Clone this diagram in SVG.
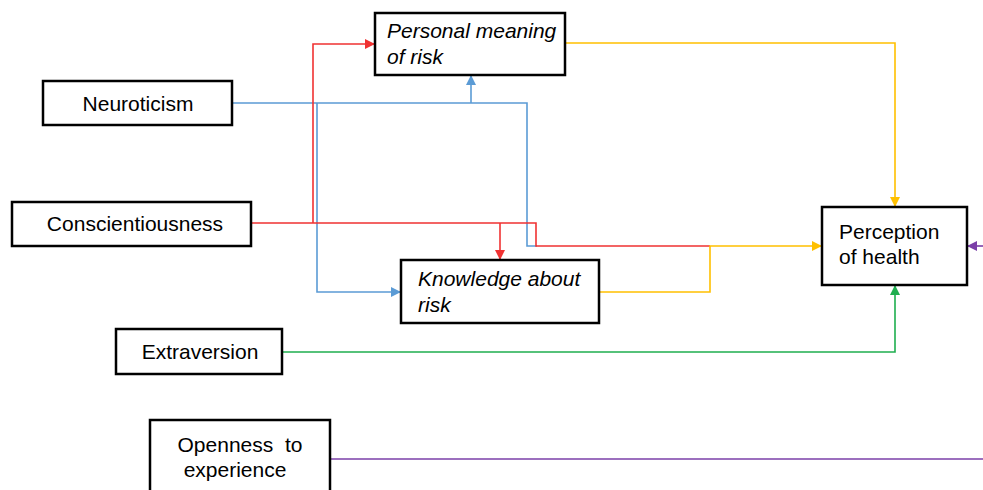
<svg xmlns="http://www.w3.org/2000/svg" width="983" height="490" viewBox="0 0 983 490">
<style>
.box{fill:#fff;stroke:#000;stroke-width:2.5}
.t{font-family:"Liberation Sans",Arial,sans-serif;font-size:21px;fill:#000}
.i{font-style:italic}
.c{fill:none;stroke-width:1.6}
.red{stroke:#f03232}.blue{stroke:#5b9bd5}.yel{stroke:#ffc000}.grn{stroke:#1fae4f}.pur{stroke:#7b3fa8}
</style>
<defs>
<marker id="aR" markerWidth="10" markerHeight="10" refX="9" refY="5" orient="auto" markerUnits="userSpaceOnUse"><path d="M0,0 L10,5 L0,10 z" fill="#f03232"/></marker>
<marker id="aB" markerWidth="10" markerHeight="10" refX="9" refY="5" orient="auto" markerUnits="userSpaceOnUse"><path d="M0,0 L10,5 L0,10 z" fill="#5b9bd5"/></marker>
<marker id="aY" markerWidth="10" markerHeight="10" refX="9" refY="5" orient="auto" markerUnits="userSpaceOnUse"><path d="M0,0 L10,5 L0,10 z" fill="#ffc000"/></marker>
<marker id="aG" markerWidth="10" markerHeight="10" refX="9" refY="5" orient="auto" markerUnits="userSpaceOnUse"><path d="M0,0 L10,5 L0,10 z" fill="#1fae4f"/></marker>
<marker id="aP" markerWidth="10" markerHeight="10" refX="9" refY="5" orient="auto" markerUnits="userSpaceOnUse"><path d="M0,0 L10,5 L0,10 z" fill="#7b3fa8"/></marker>
</defs>
<rect width="983" height="490" fill="#fff"/>
<g id="connectors">
<path class="c blue" d="M232,103 H527 V246 H537"/>
<path class="c blue" d="M471,103 V76" marker-end="url(#aB)"/>
<path class="c blue" d="M317,103 V292 H400" marker-end="url(#aB)"/>
<path class="c red" d="M251,223 H536 V246 H710"/>
<path class="c red" d="M313,223 V44 H374" marker-end="url(#aR)"/>
<path class="c red" d="M500,223 V259" marker-end="url(#aR)"/>
<path class="c yel" d="M599,292 H710 V246 H821" marker-end="url(#aY)"/>
<path class="c yel" d="M565,43 H895 V206" marker-end="url(#aY)"/>
<path class="c grn" d="M282,352 H895 V286" marker-end="url(#aG)"/>
<path class="c pur" d="M330,459 H983"/>
<path class="c pur" d="M983,246 H968" marker-end="url(#aP)"/>
</g>
<g id="personal-meaning"><rect class="box" x="375" y="13" width="190" height="62"/><text class="t i" x="387" y="38">Personal meaning</text><text class="t i" x="387" y="64">of risk</text></g>
<g id="neuroticism"><rect class="box" x="43" y="81" width="189" height="44"/><text class="t" x="138" y="111" text-anchor="middle">Neuroticism</text></g>
<g id="conscientiousness"><rect class="box" x="12" y="202" width="239" height="44"/><text class="t" x="135" y="231" text-anchor="middle">Conscientiousness</text></g>
<g id="knowledge"><rect class="box" x="401" y="260" width="198" height="63"/><text class="t i" x="418" y="286">Knowledge about</text><text class="t i" x="418" y="312">risk</text></g>
<g id="extraversion"><rect class="box" x="116" y="329" width="166" height="45"/><text class="t" x="200" y="359" text-anchor="middle">Extraversion</text></g>
<g id="openness"><rect class="box" x="150" y="420" width="180" height="75"/><text class="t" x="240" y="452" text-anchor="middle" xml:space="preserve">Openness  to</text><text class="t" x="235" y="477" text-anchor="middle">experience</text></g>
<g id="perception"><rect class="box" x="822" y="207" width="145" height="78"/><text class="t" x="839" y="239">Perception</text><text class="t" x="839" y="264">of health</text></g>
</svg>
